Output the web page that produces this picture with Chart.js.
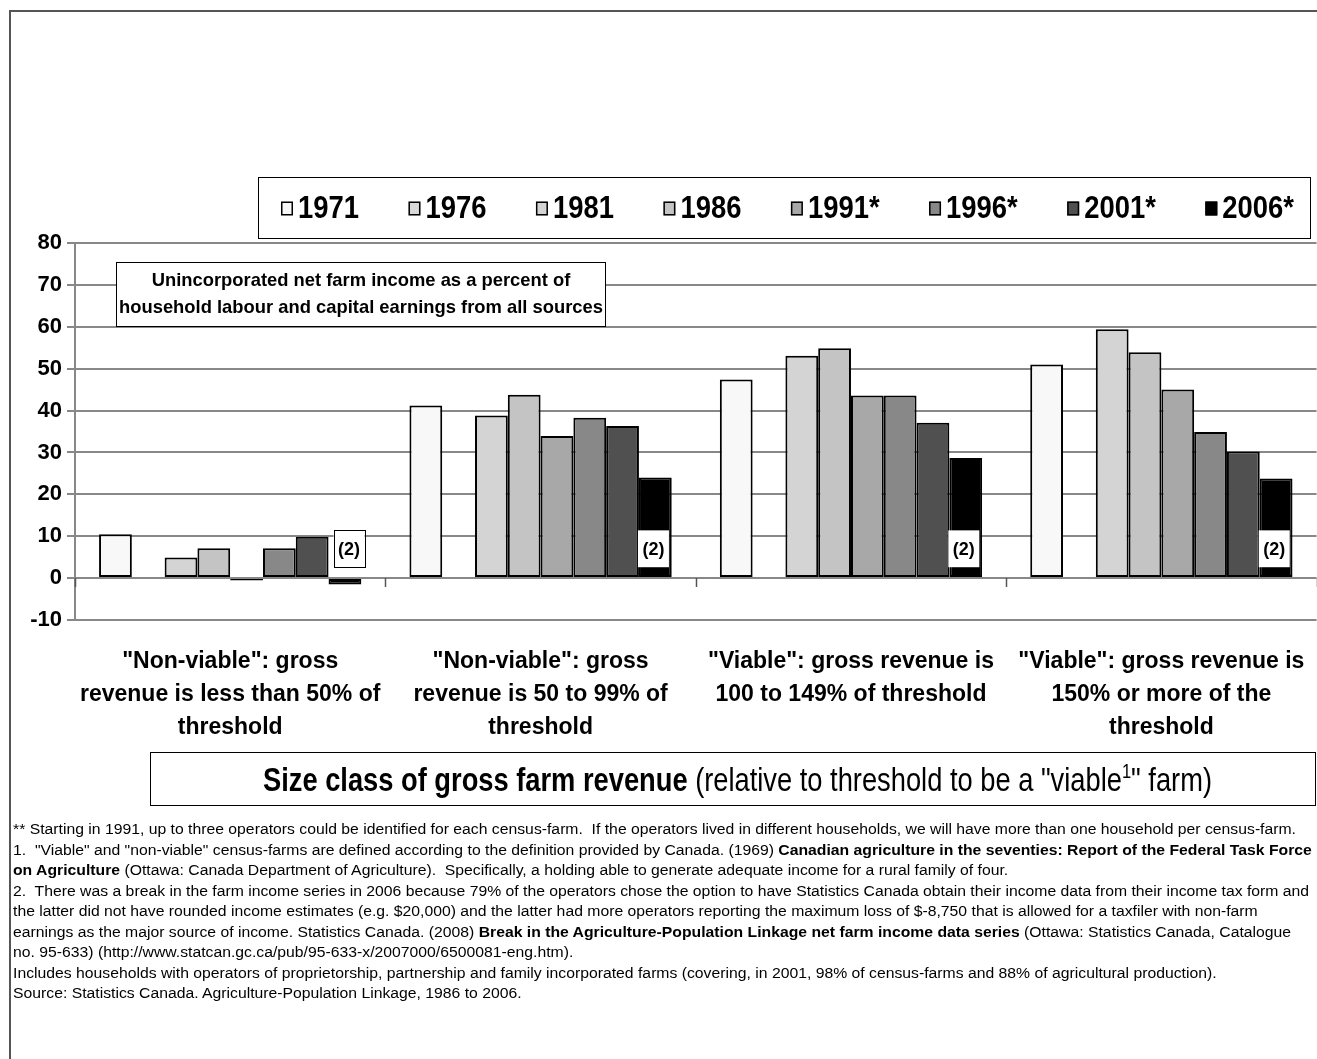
<!DOCTYPE html>
<html>
<head>
<meta charset="utf-8">
<script src="https://cdn.jsdelivr.net/npm/chart.js@4.4.1/dist/chart.umd.min.js"></script>
<style>
  html, body { margin: 0; padding: 0; width: 1317px; height: 1059px; overflow: hidden; background: #fff; }
  #frame { position: absolute; left: 9px; top: 10px; width: 1330px; height: 1070px;
           border-left: 2px solid #555; border-top: 2px solid #555; }
  #wrap { position: absolute; left: 0; top: 0; width: 1330px; height: 1059px; }
  #notes { position: absolute; left: 13px; top: 819px; font-family: 'Liberation Sans', Arial, sans-serif;
           font-size: 15.5px; line-height: 20.5px; color: #000; white-space: nowrap; transform-origin: 0 0; }
  #notes b { font-weight: bold; }
</style>
</head>
<body>
<div id="frame"></div>
<div id="wrap"><canvas id="chart" width="1330" height="1059"></canvas></div>
<div id="notes">
  <div><span id="firstLine">** Starting in 1991, up to three operators could be identified for each census-farm.&nbsp; If the operators lived in different households, we will have more than one household per census-farm.</span></div>
  <div>1.&nbsp; "Viable" and "non-viable" census-farms are defined according to the definition provided by Canada. (1969) <b>Canadian agriculture in the seventies: Report of the Federal Task Force</b></div>
  <div><b>on Agriculture</b> (Ottawa: Canada Department of Agriculture).&nbsp; Specifically, a holding able to generate adequate income for a rural family of four.</div>
  <div>2.&nbsp; There was a break in the farm income series in 2006 because 79% of the operators chose the option to have Statistics Canada obtain their income data from their income tax form and</div>
  <div>the latter did not have rounded income estimates (e.g. $20,000) and the latter had more operators reporting the maximum loss of $-8,750 that is allowed for a taxfiler with non-farm</div>
  <div>earnings as the major source of income. Statistics Canada. (2008) <b>Break in the Agriculture-Population Linkage net farm income data series</b> (Ottawa: Statistics Canada, Catalogue</div>
  <div>no. 95-633) (http://www.statcan.gc.ca/pub/95-633-x/2007000/6500081-eng.htm).</div>
  <div>Includes households with operators of proprietorship, partnership and family incorporated farms (covering, in 2001, 98% of census-farms and 88% of agricultural production).</div>
  <div>Source: Statistics Canada. Agriculture-Population Linkage, 1986 to 2006.</div>
</div>
<script>
// Size classes of gross farm revenue (category axis)
const categories = [
  ['"Non-viable": gross', 'revenue is less than 50% of', 'threshold'],
  ['"Non-viable": gross', 'revenue is 50 to 99% of', 'threshold'],
  ['"Viable": gross revenue is', '100 to 149% of threshold'],
  ['"Viable": gross revenue is', '150% or more of the', 'threshold']
];

// Census years (series)
const years = ['1971', '1976', '1981', '1986', '1991*', '1996*', '2001*', '2006*'];

// Net farm income as % of household earnings, one array per census year
const v1971 = [10.5, 41.2, 47.4, 51.0];
const v1976 = [null, null, null, null];
const v1981 = [4.9, 38.8, 53.1, 59.4];
const v1986 = [7.1, 43.8, 54.9, 53.9];
const v1991 = [-0.6, 33.9, 43.6, 45.0];
const v1996 = [7.1, 38.3, 43.6, 34.9];
const v2001 = [9.9, 36.3, 37.1, 30.2];
const v2006 = [-1.5, 24.0, 28.7, 23.8];

// Value axis
const yMin = -10;
const yMax = 80;
const yStep = 10;

// Text
const boxNote = ['Unincorporated net farm income as a percent of',
                 'household labour and capital earnings from all sources'];
const breakMark = '(2)';
const axisTitleBold = 'Size class of gross farm revenue';
const axisTitleRest = ' (relative to threshold to be a "viable';
const axisTitleSup = '1';
const axisTitleEnd = '" farm)';

const seriesValues = [v1971, v1976, v1981, v1986, v1991, v1996, v2001, v2006];
const fills = ['#f8f8f8', '#d9d9d9', '#d4d4d4', '#c4c4c4', '#a8a8a8', '#888888', '#505050', '#000000'];
const FONT = "'Liberation Sans', Arial, sans-serif";

// Fit the footnote block to its column width
(function () {
  const notes = document.getElementById('notes');
  const w = document.getElementById('firstLine').getBoundingClientRect().width;
  notes.style.transform = 'scaleX(' + (1283 / w) + ')';
})();

function condensedText(ctx, text, x, y, sx) {
  ctx.save();
  ctx.translate(x, y);
  ctx.scale(sx, 1);
  ctx.fillText(text, 0, 0);
  ctx.restore();
}

// Short tick marks below the zero line at the category boundaries
const zeroTicks = {
  id: 'zeroTicks',
  beforeDatasetsDraw(chart) {
    const { ctx, scales: { x, y } } = chart;
    const y0 = Math.round(y.getPixelForValue(0));
    const catW = x.width / chart.data.labels.length;
    ctx.save();
    ctx.strokeStyle = '#555';
    ctx.lineWidth = 1.5;
    for (let i = 0; i <= chart.data.labels.length; i++) {
      const bx = Math.round(x.left + i * catW) + 0.5;
      ctx.beginPath();
      ctx.moveTo(bx, y0);
      ctx.lineTo(bx, y0 + 9);
      ctx.stroke();
    }
    ctx.restore();
  }
};

// "(2)" break markers on the 2006 bars
const breakMarks = {
  id: 'breakMarks',
  afterDatasetsDraw(chart) {
    const { ctx, scales: { y } } = chart;
    const di = chart.data.datasets.length - 1;
    const meta = chart.getDatasetMeta(di);
    const vals = chart.data.datasets[di].data;
    const top = y.getPixelForValue(11.4);
    const bot = y.getPixelForValue(2.6);
    ctx.save();
    ctx.font = 'bold 18px ' + FONT;
    ctx.textAlign = 'center';
    ctx.textBaseline = 'middle';
    meta.data.forEach((bar, j) => {
      const neg = vals[j] < 0;
      const left = bar.x - bar.width / 2 + (neg ? 5 : -1);
      const w = 31;
      ctx.fillStyle = '#fff';
      ctx.fillRect(left, top, w, bot - top);
      if (neg) {
        ctx.strokeStyle = '#000';
        ctx.lineWidth = 1;
        ctx.strokeRect(Math.round(left) + 0.5, Math.round(top) + 0.5, w, Math.round(bot - top));
      }
      ctx.fillStyle = '#000';
      ctx.fillText(breakMark, left + w / 2, (top + bot) / 2 + 1);
    });
    ctx.restore();
  }
};

// Boxed note, legend box and boxed axis title
const boxes = {
  id: 'boxes',
  afterDraw(chart) {
    const ctx = chart.ctx;
    ctx.save();

    // note inside the plot
    ctx.fillStyle = '#fff';
    ctx.fillRect(116, 262, 489, 64);
    ctx.strokeStyle = '#000';
    ctx.lineWidth = 1;
    ctx.strokeRect(116.5, 262.5, 489, 64);
    ctx.font = 'bold 19px ' + FONT;
    const ns = 484 / ctx.measureText(boxNote[1]).width;
    ctx.fillStyle = '#000';
    ctx.textBaseline = 'middle';
    ctx.textAlign = 'left';
    boxNote.forEach((line, k) => {
      const w = ctx.measureText(line).width * ns;
      condensedText(ctx, line, 361 - w / 2, 281 + k * 27, ns);
    });

    // legend
    const L = { left: 258, top: 177, right: 1310, bottom: 238 };
    ctx.fillStyle = '#fff';
    ctx.fillRect(L.left, L.top, L.right - L.left, L.bottom - L.top);
    ctx.strokeStyle = '#000';
    ctx.lineWidth = 1;
    ctx.strokeRect(L.left + 0.5, L.top + 0.5, L.right - L.left, L.bottom - L.top);
    ctx.font = 'bold 32px ' + FONT;
    const ls = 61 / ctx.measureText(chart.data.datasets[0].label).width;
    const items = chart.data.datasets.map(ds => ({
      label: ds.label, color: ds.backgroundColor,
      w: 12 + 5 + ctx.measureText(ds.label).width * ls
    }));
    const startX = 281, endX = 1294;
    const total = items.reduce((a, it) => a + it.w, 0);
    const gap = (endX - startX - total) / (items.length - 1);
    let lx = startX;
    const cy = (L.top + L.bottom) / 2 + 1;
    items.forEach(it => {
      ctx.fillStyle = it.color;
      ctx.fillRect(lx, cy - 7, 12, 14);
      ctx.strokeStyle = '#000';
      ctx.lineWidth = 1.5;
      ctx.strokeRect(lx + 0.75, cy - 6.25, 10.5, 12.5);
      ctx.fillStyle = '#000';
      ctx.textBaseline = 'middle';
      condensedText(ctx, it.label, lx + 17, cy + 1, ls);
      lx += it.w + gap;
    });

    // axis title box
    ctx.strokeStyle = '#000';
    ctx.lineWidth = 1;
    ctx.strokeRect(150.5, 752.5, 1165, 53);
    const boldF = 'bold 33px ' + FONT, regF = '33px ' + FONT, supF = '20px ' + FONT;
    ctx.font = boldF; const wb = ctx.measureText(axisTitleBold).width;
    ctx.font = regF; const wr = ctx.measureText(axisTitleRest).width;
    const we = ctx.measureText(axisTitleEnd).width;
    ctx.font = supF; const wsp = ctx.measureText(axisTitleSup).width;
    const ts = 949 / (wb + wr + we + wsp);
    const base = 791;
    let tx = 263;
    ctx.fillStyle = '#000';
    ctx.textBaseline = 'alphabetic';
    ctx.font = boldF; condensedText(ctx, axisTitleBold, tx, base, ts); tx += wb * ts;
    ctx.font = regF; condensedText(ctx, axisTitleRest, tx, base, ts); tx += wr * ts;
    ctx.font = supF; condensedText(ctx, axisTitleSup, tx, base - 13, ts); tx += wsp * ts;
    ctx.font = regF; condensedText(ctx, axisTitleEnd, tx, base, ts);

    ctx.restore();
  }
};

new Chart(document.getElementById('chart'), {
  type: 'bar',
  data: {
    labels: categories,
    datasets: years.map((yr, i) => ({
      label: yr,
      data: seriesValues[i],
      backgroundColor: fills[i],
      borderColor: '#000',
      borderWidth: 2,
      borderSkipped: false
    }))
  },
  options: {
    responsive: false,
    animation: false,
    devicePixelRatio: 1,
    layout: { padding: { top: 243, right: 5, left: 0, bottom: 0 } },
    datasets: { bar: { categoryPercentage: 0.845, barPercentage: 1.0 } },
    plugins: { legend: { display: false }, tooltip: { enabled: false }, title: { display: false } },
    scales: {
      x: {
        grid: { display: false, drawTicks: false },
        border: { display: false },
        ticks: {
          color: '#000', padding: 25, maxRotation: 0, minRotation: 0, autoSkip: false,
          font: { family: FONT, size: 23, weight: 'bold', lineHeight: 1.435 }
        },
        afterFit(s) { s.height = 439; }
      },
      y: {
        min: yMin, max: yMax,
        ticks: { stepSize: yStep, color: '#000', padding: 5,
                 font: { family: FONT, size: 22, weight: 'bold' } },
        grid: { color: '#888', lineWidth: 2, tickLength: 8, drawTicks: true },
        border: { color: '#888', width: 2 },
        afterFit(s) { s.width = 75; }
      }
    }
  },
  plugins: [zeroTicks, breakMarks, boxes]
});
</script>
</body>
</html>
